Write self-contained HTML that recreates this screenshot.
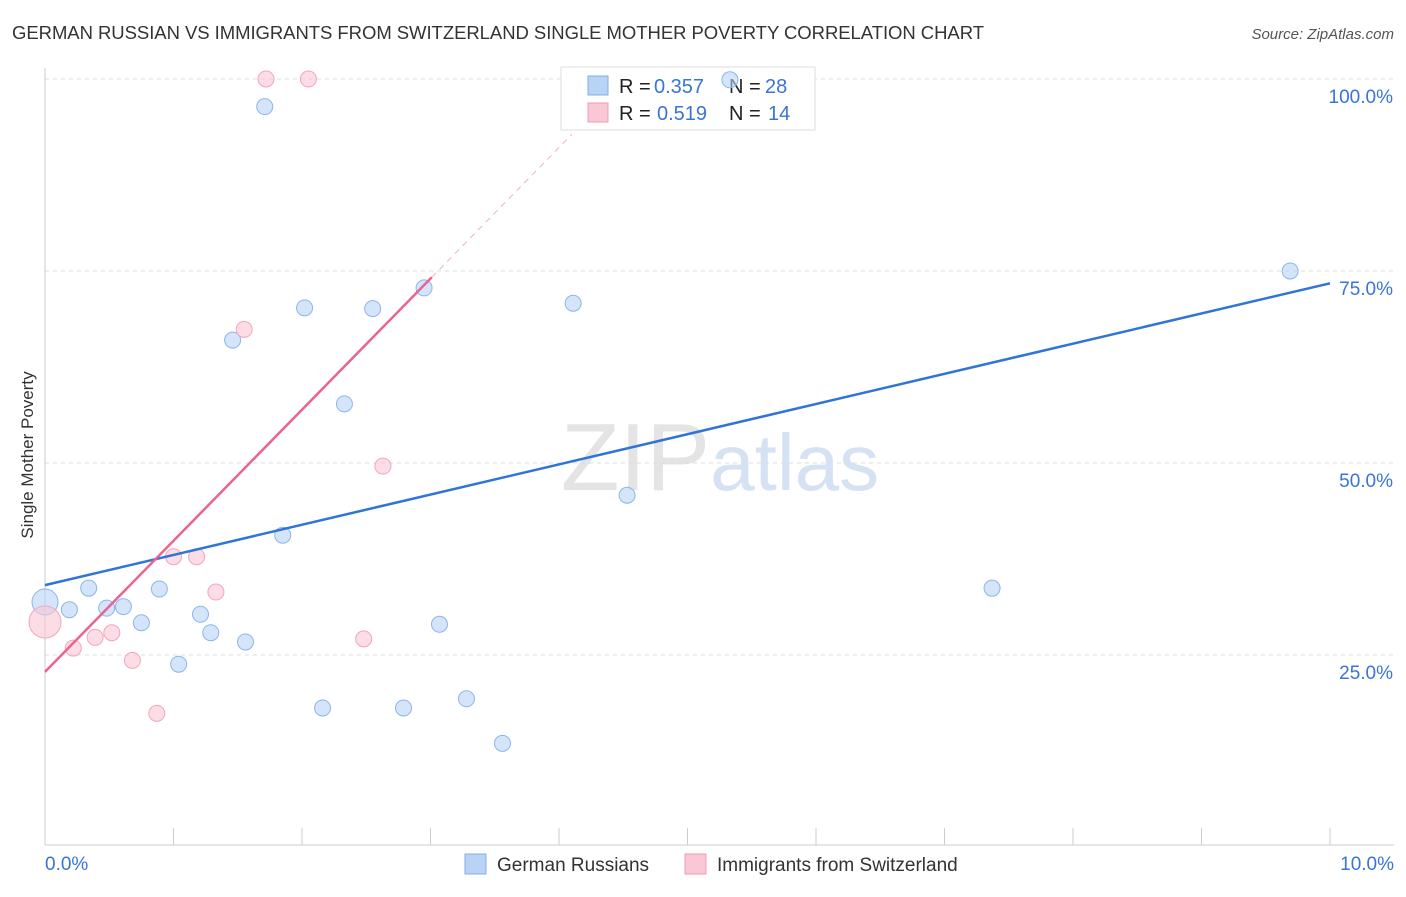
<!DOCTYPE html>
<html><head><meta charset="utf-8"><style>
body{margin:0;background:#fff;font-family:"Liberation Sans",sans-serif;}
svg text{font-family:"Liberation Sans",sans-serif;}
</style></head><body>
<svg id="chart" width="1406" height="892">
<text x="12" y="39" font-size="18.5" fill="#333" textLength="972">GERMAN RUSSIAN VS IMMIGRANTS FROM SWITZERLAND SINGLE MOTHER POVERTY CORRELATION CHART</text>
<text x="1394" y="39" font-size="15" fill="#555" text-anchor="end" font-style="italic">Source: ZipAtlas.com</text>
<text x="33" y="455" font-size="17" fill="#333" text-anchor="middle" transform="rotate(-90 33 455)">Single Mother Poverty</text>
<text x="720" y="490" font-size="96" fill="#e4e4e4" text-anchor="middle" font-family="Liberation Serif">ZIP<tspan fill="#d4e2f4" font-family="Liberation Sans" font-size="80">atlas</tspan></text>
<g id="grid"></g>
<g>
<rect x="561" y="67" width="254" height="63" fill="#fff" stroke="#ddd"/>
<rect x="588" y="76" width="20" height="19" fill="#b9d3f5" stroke="#7faee9"/>
<rect x="588" y="103" width="20" height="19" fill="#fac7d6" stroke="#f09ab4"/>
<text x="619" y="93" font-size="20" fill="#222">R =</text><text x="654" y="93" font-size="20" fill="#3a74d4">0.357</text>
<text x="729" y="93" font-size="20" fill="#222">N =</text><text x="765" y="93" font-size="20" fill="#3a74d4">28</text>
<text x="619" y="120" font-size="20" fill="#222">R =</text><text x="657" y="120" font-size="20" fill="#3a74d4">0.519</text>
<text x="729" y="120" font-size="20" fill="#222">N =</text><text x="768" y="120" font-size="20" fill="#3a74d4">14</text>
</g>
<g id="marks"></g>
<g>
<rect x="465" y="854" width="21" height="20" fill="#b9d3f5" stroke="#7faee9"/>
<text x="497" y="871" font-size="19" fill="#333">German Russians</text>
<rect x="685" y="854" width="21" height="20" fill="#fac7d6" stroke="#f09ab4"/>
<text x="717" y="871" font-size="19" fill="#333">Immigrants from Switzerland</text>
</g>
</svg>
<script>
const blueX=[0,0.19,0.34,0.48,0.61,0.75,0.89,1.04,1.21,1.29,1.46,1.56,1.71,1.85,2.02,2.16,2.33,2.55,2.79,2.95,3.07,3.28,3.56,4.11,4.53,5.33,7.37,9.69];
const blueY=[31.9,30.9,33.7,31.1,31.3,29.2,33.6,23.8,30.3,27.9,66.0,26.7,96.4,40.6,70.2,18.1,57.7,70.1,18.1,72.8,29.0,19.3,13.5,70.8,45.8,99.9,33.7,75.0];
const pinkX=[0,0.22,0.39,0.52,0.68,0.87,1.0,1.18,1.33,1.55,1.72,2.05,2.48,2.63];
const pinkY=[29.3,25.9,27.3,27.9,24.3,17.4,37.8,37.8,33.2,67.4,100,100,27.1,49.6];
const blueLine=[34.1,73.4];
const pinkLine=[22.8,17.07];
const yTicks=[25,50,75,100];
const xTickLabels=["0.0%","10.0%"];
const NS="http://www.w3.org/2000/svg";
const sx=v=>45+v*128.5, sy=v=>847-v*7.68;
function mk(p,t,a){const e=document.createElementNS(NS,t);for(const k in a)e.setAttribute(k,a[k]);p.appendChild(e);return e;}
const g=document.getElementById('grid'),m=document.getElementById('marks');
yTicks.forEach(t=>{
 const l=mk(g,'line',{x1:45,x2:1394,y1:sy(t),y2:sy(t),stroke:'#ddd','stroke-dasharray':'4,4'});
 
 
 const tx=mk(g,'text',{x:1393,y:sy(t)+24,'font-size':19,fill:'#3a74d4','text-anchor':'end'});tx.textContent=t.toFixed(1)+'%';
 
 
});
mk(g,'line',{x1:45,x2:45,y1:68,y2:845,stroke:'#ccc'});
mk(g,'line',{x1:45,x2:1394,y1:845,y2:845,stroke:'#ccc'});
for(let i=0;i<=10;i++){mk(g,'line',{x1:sx(i),x2:sx(i),y1:828,y2:845,stroke:'#ccc'});}
[[0,'start',45],[1,'end',1394]].forEach(([i,a,x])=>{const t=mk(g,'text',{x:x,y:870,'font-size':19,fill:'#3a74d4','text-anchor':a});t.textContent=xTickLabels[i];
 
 });
blueX.forEach((x,i)=>{const c=mk(m,'circle',{cx:sx(x),cy:sy(blueY[i]),r:i==0?13:8,fill:'#b9d3f5','fill-opacity':0.6,stroke:'#8cb5ec'});
 
 });
pinkX.forEach((x,i)=>{const c=mk(m,'circle',{cx:sx(x),cy:sy(pinkY[i]),r:i==0?16:8,fill:'#fac7d6','fill-opacity':0.6,stroke:'#f2a5bd'});
 
 });
const bl=mk(m,'line',{x1:sx(0),y1:sy(blueLine[0]),x2:sx(10),y2:sy(blueLine[1]),stroke:'#2f74d6','stroke-width':2.5});


const pe=3.01,pd=4.1;
const pl=mk(m,'line',{x1:sx(0),y1:sy(pinkLine[0]),x2:sx(pe),y2:sy(pinkLine[0]+pinkLine[1]*pe),stroke:'#e9648f','stroke-width':2.5});


const pdl=mk(m,'line',{x1:sx(pe),y1:sy(pinkLine[0]+pinkLine[1]*pe),x2:sx(pd),y2:sy(pinkLine[0]+pinkLine[1]*pd),stroke:'#eeb0c3','stroke-width':1,'stroke-dasharray':'6,5'});


</script>
</body></html>
